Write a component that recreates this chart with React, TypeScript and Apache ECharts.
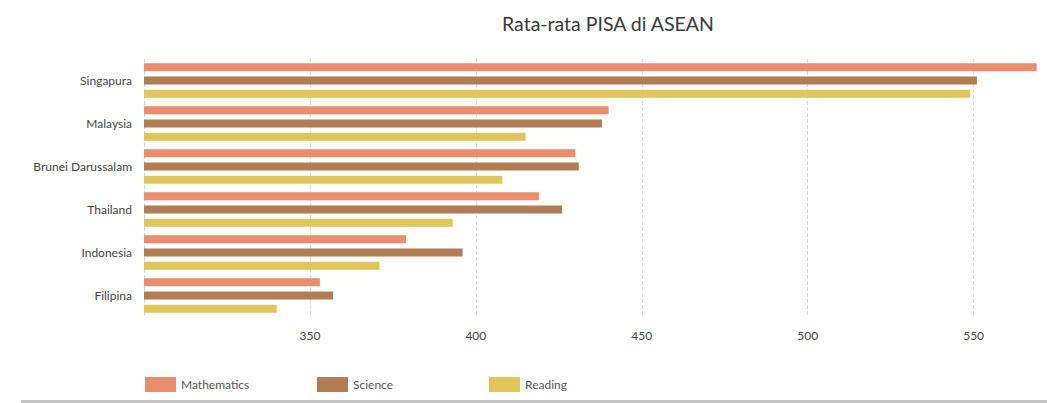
import React, { useEffect, useRef } from "react";
import * as echarts from "echarts";

const countries = ["Singapura", "Malaysia", "Brunei Darussalam", "Thailand", "Indonesia", "Filipina"];
const mathematics = [569, 440, 430, 419, 379, 353];
const science = [551, 438, 431, 426, 396, 357];
const reading = [549, 415, 408, 393, 371, 340];
const seriesNames = ["Mathematics", "Science", "Reading"];
const seriesColors = ["#EB8D6D", "#B27C54", "#E0C55A"];
const titleText = "Rata-rata PISA di ASEAN";

export default function App() {
  const ref = useRef<HTMLDivElement>(null);
  useEffect(() => {
    if (!ref.current) return;
    const chart = echarts.init(ref.current, undefined, { renderer: "svg" });
    const values = [mathematics, science, reading];
    const legendLefts = [145, 317, 489];
    chart.setOption({
      animation: false,
      backgroundColor: "#ffffff",
      textStyle: { fontFamily: "Lato" },
      title: {
        text: titleText,
        left: 497,
        top: 8,
        textStyle: { fontFamily: "Lato", fontSize: 19.5, fontWeight: "normal", color: "#3a3a3a" },
      },
      legend: seriesNames.map((n, i) => ({
        data: [n],
        left: legendLefts[i],
        top: 377,
        itemWidth: 31,
        itemHeight: 15,
        icon: "rect",
        selectedMode: false,
        textStyle: { fontFamily: "Lato", fontSize: 12, color: "#555555", padding: [0, 0, 0, 0] },
        itemGap: 0,
        padding: 0,
      })),
      grid: { left: 144, right: 7, top: 59, bottom: 403 - 317, containLabel: false },
      xAxis: {
        type: "value",
        min: 300,
        max: 570,
        interval: 50,
        axisLine: { show: false },
        axisTick: { show: false },
        splitLine: {
          show: true,
          showMaxLine: false,
          lineStyle: { type: "dashed", color: "#d9d9d9", width: 1 },
        },
        axisLabel: {
          showMinLabel: false,
          showMaxLabel: false,
          margin: 12,
          fontFamily: "Lato",
          fontSize: 12,
          color: "#444444",
          formatter: (v: number) => (v === 300 || v > 550 ? "" : String(v)),
        },
      },
      yAxis: {
        type: "category",
        data: countries,
        inverse: true,
        axisLine: { show: false },
        axisTick: { show: false },
        splitLine: { show: false },
        axisLabel: { margin: 12, fontFamily: "Lato", fontSize: 12, color: "#444444" },
      },
      series: seriesNames.map((n, i) => ({
        name: n,
        type: "bar",
        data: values[i],
        barWidth: 8,
        barGap: "66%",
        itemStyle: { color: seriesColors[i] },
      })),
      graphic: [
        {
          type: "rect",
          left: 21,
          top: 400,
          shape: { width: 1026, height: 3 },
          style: { fill: "#c4c4c4" },
          silent: true,
        },
      ],
    });
    return () => chart.dispose();
  }, []);
  return (
    <div
      ref={ref}
      style={{ position: "absolute", left: 0, top: 0, width: 1047, height: 403 }}
    />
  );
}
